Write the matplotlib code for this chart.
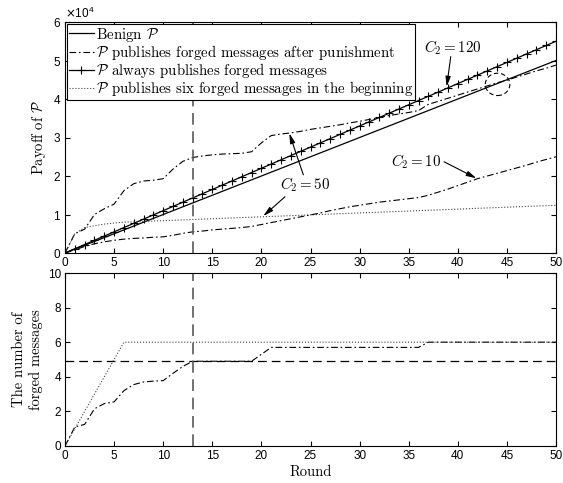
import matplotlib
matplotlib.use('Agg')
import matplotlib.pyplot as plt
import numpy as np
from matplotlib.patches import Ellipse

# payoff of P per round (0..50)
rounds = np.arange(51)
benign_payoff = [0, 1000, 2000, 3000, 4000, 5000, 6000, 7000, 8000, 9000,
                 10000, 11000, 12000, 13000, 14000, 15000, 16000, 17000, 18000, 19000,
                 20000, 21000, 22000, 23000, 24000, 25000, 26000, 27000, 28000, 29000,
                 30000, 31000, 32000, 33000, 34000, 35000, 36000, 37000, 38000, 39000,
                 40000, 41000, 42000, 43000, 44000, 45000, 46000, 47000, 48000, 49000,
                 50000]
always_payoff = [0, 1100, 2200, 3300, 4400, 5500, 6600, 7700, 8800, 9900,
                 11000, 12100, 13200, 14300, 15400, 16500, 17600, 18700, 19800, 20900,
                 22000, 23100, 24200, 25300, 26400, 27500, 28600, 29700, 30800, 31900,
                 33000, 34100, 35200, 36300, 37400, 38500, 39600, 40700, 41800, 42900,
                 44000, 45100, 46200, 47300, 48400, 49500, 50600, 51700, 52800, 53900,
                 55000]
# forging after punishment, C2 = 50
punish_c50 = [0, 5000, 6200, 10000, 11500, 12700, 16200, 18000, 18700, 18900,
              19300, 21800, 23800, 24800, 25200, 25500, 25700, 25800, 25900, 26300,
              28600, 30500, 30900, 31200, 31600, 32100, 32500, 32900, 33300, 33800,
              34200, 34700, 35200, 35700, 36100, 36500, 37000, 38600, 39400, 40200,
              41000, 41800, 42600, 43400, 44200, 44900, 45700, 46500, 47300, 48000,
              48800]
# forging after punishment, C2 = 10
punish_c10 = [0, 800, 1700, 2400, 2900, 3300, 3600, 3800, 3900, 4100,
              4200, 4600, 5100, 5500, 5700, 6000, 6200, 6400, 6600, 6900,
              7400, 7900, 8400, 8900, 9400, 9900, 10400, 11000, 11500, 12000,
              12400, 12800, 13200, 13500, 13800, 14100, 14400, 15000, 15800, 16600,
              17500, 18400, 19300, 20000, 20700, 21400, 22100, 22800, 23600, 24300,
              25000]
six_early_payoff = [0, 5000, 6600, 7100, 7500, 7800, 8000, 8100, 8200, 8300,
                    8400, 8500, 8600, 8700, 8800, 8900, 9000, 9100, 9200, 9300,
                    9400, 9500, 9600, 9700, 9800, 9900, 10000, 10100, 10200, 10300,
                    10400, 10500, 10600, 10700, 10800, 10900, 11000, 11100, 11200, 11300,
                    11400, 11500, 11600, 11700, 11800, 11900, 12000, 12100, 12200, 12300,
                    12400]

# number of forged messages per round
forged_after = [0, 1.1, 1.25, 2.15, 2.45, 2.55, 3.2, 3.55, 3.7, 3.75,
                3.78, 4.2, 4.6, 4.9, 4.9, 4.9, 4.9, 4.9, 4.9, 4.9,
                5.3, 5.7, 5.7, 5.7, 5.7, 5.7, 5.7, 5.7, 5.7, 5.7,
                5.7, 5.7, 5.7, 5.7, 5.7, 5.7, 5.7, 6, 6, 6,
                6, 6, 6, 6, 6, 6, 6, 6, 6, 6,
                6]
forged_six = [0, 1, 2, 3, 4, 5, 6, 6, 6, 6,
              6, 6, 6, 6, 6, 6, 6, 6, 6, 6,
              6, 6, 6, 6, 6, 6, 6, 6, 6, 6,
              6, 6, 6, 6, 6, 6, 6, 6, 6, 6,
              6, 6, 6, 6, 6, 6, 6, 6, 6, 6,
              6]
punish_round = 13
forged_threshold = 4.9

plt.rcParams['font.family'] = ['Liberation Sans', 'DejaVu Sans']
plt.rcParams['mathtext.fontset'] = 'cm'
plt.rcParams['font.size'] = 8.5
plt.rcParams['axes.linewidth'] = 0.8
for a in ('xtick', 'ytick'):
    plt.rcParams[a + '.direction'] = 'in'
    plt.rcParams[a + '.major.size'] = 3.5
    plt.rcParams[a + '.major.width'] = 0.8
plt.rcParams['xtick.top'] = True
plt.rcParams['ytick.right'] = True

cmfont = {'family': 'cmr10', 'size': 10.5}
legfont = {'family': 'cmr10', 'size': 10.7}
dashdot = (0, (6, 2.5, 1.5, 2.5))
dashed = (0, (7, 4))

fig = plt.figure(figsize=(5.63, 4.83), dpi=100)
ax1 = fig.add_axes([65/563, 1-253/483, 491/563, 231/483])
ax2 = fig.add_axes([65/563, 1-446/483, 491/563, 173/483])

ax1.plot(rounds, benign_payoff, '-', color='k', lw=0.9, label=r'Benign $\mathcal{P}$')
ax1.plot(rounds, punish_c50, color='k', lw=0.8, ls=dashdot,
         label=r'$\mathcal{P}$ publishes forged messages after punishment')
ax1.plot(rounds, always_payoff, '-', color='k', lw=0.9, marker='+', ms=5.5, mew=0.8,
         label=r'$\mathcal{P}$ always publishes forged messages')
ax1.plot(rounds, six_early_payoff, ':', color='0.25', lw=0.8,
         label=r'$\mathcal{P}$ publishes six forged messages in the beginning')
ax1.plot(rounds, punish_c10, color='k', lw=0.8, ls=dashdot)
ax1.axvline(punish_round, color='0.35', lw=1.2, ls=dashed)

ax1.set_xlim(0, 50)
ax1.set_ylim(0, 60000)
ax1.set_xticks(np.arange(0, 51, 5))
ax1.set_yticks(np.arange(0, 60001, 10000))
ax1.ticklabel_format(axis='y', style='sci', scilimits=(0, 0), useMathText=True)
ax1.yaxis.get_offset_text().set_math_fontfamily('dejavusans')
ax1.yaxis.get_offset_text().set_fontsize(8.5)
ax1.tick_params(pad=3)
ax1.set_ylabel(r'Payoff of $\mathcal{P}$', fontdict=cmfont)
ax1.yaxis.set_label_coords(-0.034, 0.5)

leg = ax1.legend(loc='upper left', prop=legfont, borderaxespad=0.12, fancybox=False,
                 edgecolor='k', framealpha=1, handlelength=1.7, handletextpad=0.12,
                 labelspacing=-0.05, borderpad=0.12)
leg.get_frame().set_linewidth(0.8)

# labels for the punishment cost C2
ax1.text(39.46, 53400, r'$C_2 = 120$', fontsize=10.8, ha='center', va='center')
ax1.text(35.8, 23700, r'$C_2 = 10$', fontsize=10.8, ha='center', va='center')
ax1.text(24.44, 17700, r'$C_2 = 50$', fontsize=10.8, ha='center', va='center')
arrow = dict(arrowstyle='-|>,head_length=0.7,head_width=0.18', color='k', lw=0.8,
             shrinkA=0, shrinkB=0)
ax1.annotate('', xy=(38.87, 43200), xytext=(39.28, 51000), arrowprops=arrow)
ax1.annotate('', xy=(41.9, 19400), xytext=(38.6, 23700), arrowprops=arrow)
ax1.annotate('', xy=(22.84, 31100), xytext=(24.27, 20300), arrowprops=arrow)
ax1.annotate('', xy=(20.19, 9600), xytext=(22.4, 14600), arrowprops=arrow)
ax1.add_patch(Ellipse((44.05, 43800), width=2.5, height=5800, fill=False,
                      color='k', lw=0.8, ls=(0, (4, 2.5))))

ax2.plot(rounds, forged_after, color='k', lw=0.8, ls=dashdot)
ax2.plot(rounds, forged_six, ':', color='0.25', lw=0.8)
ax2.axhline(forged_threshold, color='k', lw=0.9, ls=dashed)
ax2.axvline(punish_round, color='0.35', lw=1.2, ls=dashed)
ax2.set_xlim(0, 50)
ax2.set_ylim(0, 10)
ax2.set_xticks(np.arange(0, 51, 5))
ax2.set_yticks(np.arange(0, 11, 2))
ax2.tick_params(pad=3)
ax2.set_xlabel('Round', fontdict=cmfont, labelpad=2)
ax2.set_ylabel('The number of\nforged messages', fontdict=cmfont, linespacing=1.25)
ax2.yaxis.set_label_coords(-0.045, 0.5)

fig.savefig('out.png', dpi=100)
